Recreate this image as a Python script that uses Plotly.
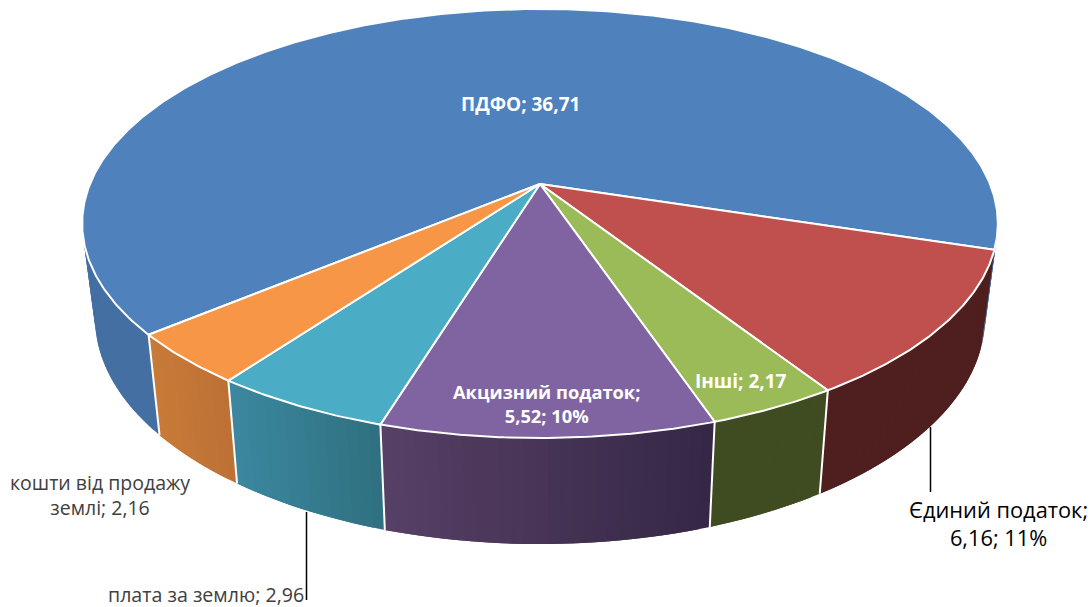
import numpy as np
import plotly.graph_objects as go

# ---- data ----
categories = ["ПДФО", "Єдиний податок", "Інші", "Акцизний податок", "плата за землю", "кошти від продажу землі"]
values = [36.71, 6.16, 2.17, 5.52, 2.96, 2.16]
label_texts = ["ПДФО; 36,71", "Єдиний податок;<br>6,16; 11%", "Інші; 2,17",
               "Акцизний податок;<br>5,52; 10%", "плата за землю; 2,96", "кошти від продажу<br>землі; 2,16"]

# ---- style ----
top_colors = ["#4f81bd", "#c0504d", "#9bbb59", "#8064a2", "#4bacc6", "#f79646"]
# wall colour at the left and right screen side of each slice wall
wall_left = ["#446fa3", "#4e1f1e", "#3f4c21", "#574066", "#3c88a0", "#c87b38"]
wall_right = ["#426a9c", "#4e1f1e", "#3f4b21", "#352745", "#2f707f", "#bc7035"]
label_x = [520, 998, 741, 546, 206, 100]
label_y = [104, 523, 381, 403, 594, 495]
label_size = [19, 21.8, 19, 18.3, 19.6, 19.5]
label_color = ["white", "black", "white", "white", "#404040", "#404040"]
label_bold = [True, False, True, True, False, False]
FIRST_ANGLE = 230.1  # clockwise from the back of the pie

# ---- projection of the tilted disc ----
CX, CY = 540.0, 184.0
KX, KY, PERSP = 450.0, 173.4, -0.184
BOTTOM_X, BOTTOM_Y, BOTTOM_D = 0.972, 1.055, 82.0


def project(phi_deg):
    phi = np.radians(phi_deg)
    s, t = np.sin(phi), -np.cos(phi)
    w = 1 + PERSP * t
    return CX + KX * s / w, (KY * t + CY) / w, t


def lower(x, y):
    return CX + (x - CX) * BOTTOM_X, BOTTOM_Y * y + BOTTOM_D


def mix(a, b, f):
    ca = [int(a[i:i + 2], 16) for i in (1, 3, 5)]
    cb = [int(b[i:i + 2], 16) for i in (1, 3, 5)]
    return "rgb(%d,%d,%d)" % tuple(round(p + (q - p) * f) for p, q in zip(ca, cb))


total = sum(values)
edges = FIRST_ANGLE + np.concatenate([[0], np.cumsum(values)]) / total * 360
T_MIN = -0.15

fig = go.Figure()
separators = []
for i in range(len(values)):
    a0, a1 = edges[i], edges[i + 1]
    n = max(2, int((a1 - a0) * 0.8))
    ph = np.linspace(a0, a1, n + 1)
    xs, ys, ts = project(ph)
    bxs, bys = lower(xs, ys)
    vis = ts > T_MIN
    xmin, xmax = xs[vis].min(), xs[vis].max()
    # each strip overlaps the next one so no seams show between them
    for k in range(n):
        if max(ts[k], ts[k + 1]) < T_MIN:
            continue
        e = min(k + 2, n)
        f = ((xs[k] + xs[k + 1]) / 2 - xmin) / max(xmax - xmin, 1)
        col = mix(wall_left[i], wall_right[i], float(np.clip(f, 0, 1)))
        sx = [*xs[k:e + 1], *bxs[k:e + 1][::-1], xs[k]]
        sy = [*ys[k:e + 1], *bys[k:e + 1][::-1], ys[k]]
        fig.add_trace(go.Scatter(x=sx, y=sy, mode="lines", fill="toself", fillcolor=col,
                                 line=dict(width=0), hoverinfo="skip", showlegend=False))
    x_e, y_e, t_e = project(a0)
    if t_e > 0.4:
        bx, by = lower(x_e, y_e)
        separators.append(([x_e, bx], [y_e, by]))

for sx, sy in separators:
    fig.add_trace(go.Scatter(x=sx, y=sy, mode="lines", line=dict(color="white", width=2),
                             hoverinfo="skip", showlegend=False))

for i, name in enumerate(categories):
    ph = np.linspace(edges[i], edges[i + 1], max(3, int((edges[i + 1] - edges[i]) * 2)))
    xs, ys, _ = project(ph)
    fig.add_trace(go.Scatter(x=[CX, *xs, CX], y=[CY, *ys, CY], mode="lines", fill="toself",
                             fillcolor=top_colors[i], line=dict(color="white", width=2),
                             name=name, text=name, hoverinfo="text", showlegend=False))

# leader lines
fig.add_shape(type="line", x0=930.5, x1=930.5, y0=427, y1=492, line=dict(color="black", width=1.5))
fig.add_shape(type="line", x0=306.5, x1=306.5, y0=512, y1=600, line=dict(color="black", width=1.5))

for i, txt in enumerate(label_texts):
    fig.add_annotation(x=label_x[i], y=label_y[i], text=f"<b>{txt}</b>" if label_bold[i] else txt,
                       showarrow=False, align="center", xanchor="center", yanchor="middle",
                       font=dict(family="Open Sans, Noto Sans, sans-serif", size=label_size[i], color=label_color[i]))

fig.update_layout(width=1091, height=607, margin=dict(l=0, r=0, t=0, b=0),
                  paper_bgcolor="white", plot_bgcolor="white",
                  xaxis=dict(range=[0, 1091], visible=False, fixedrange=True),
                  yaxis=dict(range=[607, 0], visible=False, fixedrange=True))
fig.write_html("out.html", config={"displayModeBar": False},
               post_script="document.body.style.margin='0';document.body.style.overflow='hidden';")
